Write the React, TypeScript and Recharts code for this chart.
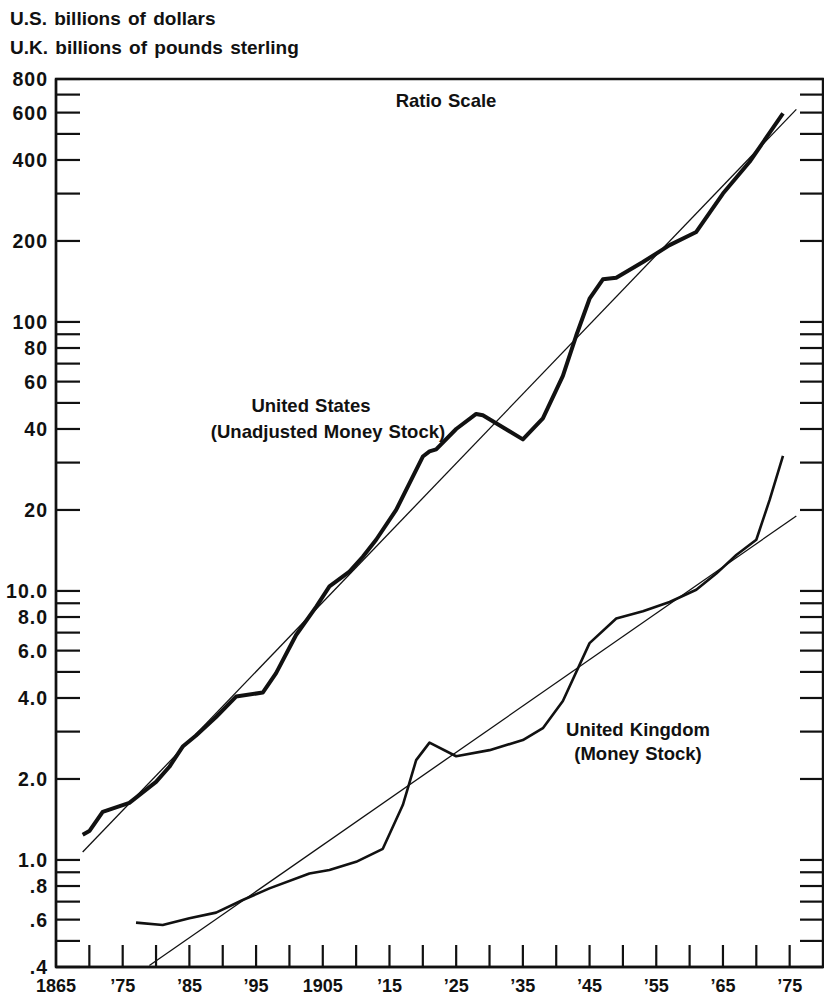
import React from "react";
import { LineChart, Line, XAxis, YAxis, ReferenceArea } from "recharts";

// Chart frame
const CHART_W = 824;
const CHART_H = 996;
const MARGIN = { top: 79, right: 1, bottom: 0, left: 0 };
const Y_AXIS_W = 56;
const X_AXIS_H = 29;
const PLOT_W = CHART_W - MARGIN.left - MARGIN.right - Y_AXIS_W;

const INK = "#111";
const FONT = "'Liberation Sans', Arial, Helvetica, sans-serif";

// United States, unadjusted money stock (billions of dollars)
const usYears = [
  1869, 1870, 1872, 1876, 1880, 1882, 1884, 1886, 1889, 1892, 1896, 1898, 1901,
  1904, 1906, 1909, 1911, 1913, 1916, 1920, 1921, 1922, 1925, 1928, 1929, 1935,
  1938, 1941, 1943, 1945, 1947, 1949, 1953, 1957, 1961, 1965, 1969, 1974,
];
const usMoney = [
  1.24, 1.28, 1.51, 1.63, 1.95, 2.22, 2.64, 2.9, 3.4, 4.05, 4.19, 4.95, 6.86,
  8.73, 10.4, 11.8, 13.4, 15.5, 20.0, 31.6, 33.0, 33.6, 40.0, 45.5, 45.0, 36.6,
  43.8, 63.0, 89.0, 122, 144, 146, 167, 193, 216, 300, 394, 596,
];

// United Kingdom, money stock (billions of pounds sterling)
const ukYears = [
  1877, 1881, 1885, 1889, 1893, 1897, 1903, 1906, 1910, 1914, 1917, 1919, 1921,
  1925, 1930, 1935, 1938, 1941, 1945, 1949, 1953, 1957, 1961, 1964, 1967, 1970,
  1972, 1974,
];
const ukMoney = [
  0.585, 0.573, 0.607, 0.637, 0.71, 0.784, 0.891, 0.917, 0.984, 1.1, 1.6, 2.35,
  2.73, 2.43, 2.56, 2.79, 3.09, 3.9, 6.4, 7.9, 8.4, 9.1, 10.1, 11.6, 13.6, 15.5,
  21.8, 31.8,
];

// Fitted constant-growth trends
const usTrendYears = [1869, 1976];
const usTrendMoney = [1.07, 617];
const ukTrendYears = [1879, 1976];
const ukTrendMoney = [0.405, 19.0];

// Ratio-scale ticks
const yTicks = [
  0.4, 0.5, 0.6, 0.7, 0.8, 0.9, 1, 2, 3, 4, 5, 6, 7, 8, 9, 10, 20, 30, 40, 50,
  60, 70, 80, 90, 100, 200, 300, 400, 500, 600, 700, 800,
];
const yTickLabels = [
  ".4", "", ".6", "", ".8", "", "1.0", "2.0", "", "4.0", "", "6.0", "", "8.0",
  "", "10.0", "20", "", "40", "", "60", "", "80", "", "100", "200", "", "400",
  "", "600", "", "800",
];

const xTicks = [
  1865, 1870, 1875, 1880, 1885, 1890, 1895, 1900, 1905, 1910, 1915, 1920, 1925,
  1930, 1935, 1940, 1945, 1950, 1955, 1960, 1965, 1970, 1975,
];
const xTickLabels = [
  "1865", "", "\u201975", "", "\u201985", "", "\u201995", "", "1905", "",
  "\u201915", "", "\u201925", "", "\u201935", "", "\u201945", "", "\u201955", "",
  "\u201965", "", "\u201975",
];

const toRows = (years: number[], values: number[]) =>
  years.map((year, i) => ({ year, value: values[i] }));

const usRows = toRows(usYears, usMoney);
const ukRows = toRows(ukYears, ukMoney);
const usTrendRows = toRows(usTrendYears, usTrendMoney);
const ukTrendRows = toRows(ukTrendYears, ukTrendMoney);

const xLabelStyle = {
  fontFamily: FONT,
  fontSize: 18,
  fontWeight: 700,
  fill: INK,
} as const;

const yLabelStyle = {
  fontFamily: FONT,
  fontSize: 19.5,
  fontWeight: 700,
  letterSpacing: 1,
  fill: INK,
} as const;

function YTick(props: any) {
  const { x, y, payload } = props;
  const idx = yTicks.indexOf(payload.value);
  const label = idx >= 0 ? yTickLabels[idx] : "";
  return (
    <g>
      <line x1={x} x2={x + 24} y1={y} y2={y} stroke={INK} strokeWidth={2.2} />
      <line
        x1={x + PLOT_W - 23}
        x2={x + PLOT_W}
        y1={y}
        y2={y}
        stroke={INK}
        strokeWidth={2.2}
      />
      {label ? (
        <text x={x - 8} y={y + 7} textAnchor="end" {...yLabelStyle}>
          {label}
        </text>
      ) : null}
    </g>
  );
}

function XTick(props: any) {
  const { x, y, payload } = props;
  const idx = xTicks.indexOf(payload.value);
  const label = idx >= 0 ? xTickLabels[idx] : "";
  return (
    <g>
      {idx > 0 ? (
        <line x1={x} x2={x} y1={y} y2={y - 22} stroke={INK} strokeWidth={2.2} />
      ) : null}
      {label ? (
        <text x={x} y={y + 25} textAnchor="middle" {...xLabelStyle}>
          {label}
        </text>
      ) : null}
    </g>
  );
}

const headStyle: React.CSSProperties = {
  fontFamily: FONT,
  fontSize: 19,
  fontWeight: 700,
  wordSpacing: 2,
};

const noteStyle: React.CSSProperties = {
  fontFamily: FONT,
  fontSize: 18.5,
  fontWeight: 700,
  wordSpacing: 1,
};

export default function App() {
  return (
    <div style={{ position: "relative", width: CHART_W, height: CHART_H, background: "#fff" }}>
      <style>{"body{margin:0;background:#fff}"}</style>
      <LineChart width={CHART_W} height={CHART_H} margin={MARGIN}>
        <XAxis
          type="number"
          dataKey="year"
          domain={[1865, 1980]}
          ticks={xTicks}
          interval={0}
          height={X_AXIS_H}
          tickSize={0}
          tickMargin={0}
          tickLine={false}
          axisLine={{ stroke: INK, strokeWidth: 2.4 }}
          tick={<XTick />}
          allowDataOverflow
        />
        <YAxis
          type="number"
          scale="log"
          domain={[0.4, 800]}
          ticks={yTicks}
          interval={0}
          width={Y_AXIS_W}
          tickSize={0}
          tickMargin={0}
          tickLine={false}
          axisLine={{ stroke: INK, strokeWidth: 2.4 }}
          tick={<YTick />}
          allowDataOverflow
        />
        <ReferenceArea
          x1={1865}
          x2={1980}
          y1={0.4}
          y2={800}
          fill="none"
          fillOpacity={0}
          stroke={INK}
          strokeWidth={2.4}
          ifOverflow="visible"
        />
        <Line
          data={usTrendRows}
          dataKey="value"
          type="linear"
          stroke={INK}
          strokeWidth={1.3}
          dot={false}
          isAnimationActive={false}
        />
        <Line
          data={ukTrendRows}
          dataKey="value"
          type="linear"
          stroke={INK}
          strokeWidth={1.3}
          dot={false}
          isAnimationActive={false}
        />
        <Line
          data={ukRows}
          dataKey="value"
          type="linear"
          stroke={INK}
          strokeWidth={2.6}
          strokeLinejoin="round"
          dot={false}
          isAnimationActive={false}
        />
        <Line
          data={usRows}
          dataKey="value"
          type="linear"
          stroke={INK}
          strokeWidth={4}
          strokeLinejoin="round"
          dot={false}
          isAnimationActive={false}
        />
      </LineChart>
      <svg
        width={CHART_W}
        height={CHART_H}
        style={{ position: "absolute", left: 0, top: 0, pointerEvents: "none" }}
      >
        <g fill={INK} style={headStyle}>
          <text x={10} y={25}>U.S. billions of dollars</text>
          <text x={10} y={54}>U.K. billions of pounds sterling</text>
        </g>
        <g fill={INK} style={noteStyle}>
          <text x={446} y={107} textAnchor="middle">Ratio Scale</text>
          <text x={311} y={412} textAnchor="middle">United States</text>
          <text x={328} y={438} textAnchor="middle">(Unadjusted Money Stock)</text>
          <text x={638} y={736} textAnchor="middle">United Kingdom</text>
          <text x={638} y={760} textAnchor="middle">(Money Stock)</text>
        </g>
      </svg>
    </div>
  );
}
